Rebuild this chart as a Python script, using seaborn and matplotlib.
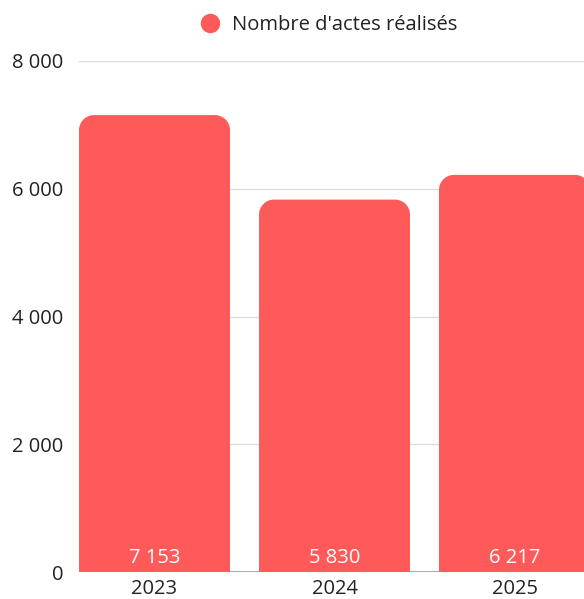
import numpy as np
import matplotlib
matplotlib.use("Agg")
import matplotlib.pyplot as plt
import seaborn as sns
from matplotlib.path import Path
from matplotlib.patches import PathPatch
from matplotlib.lines import Line2D
from matplotlib.ticker import FuncFormatter

# data
years = ["2023", "2024", "2025"]
actes = [7153, 5830, 6217]
series_name = "Nombre d'actes réalisés"
y_ticks = [0, 2000, 4000, 6000, 8000]

bar_color = "#FF5A5A"
text_color = "#222222"
fs = 14.5

sns.set_theme(style="white")
plt.rcParams["font.family"] = ["Open Sans", "DejaVu Sans"]

W, H = 584, 599
fig = plt.figure(figsize=(W / 100, H / 100), dpi=100)
ax_left, ax_right, ax_bottom, ax_top = 79, 584, 572, 61
ax = fig.add_axes([ax_left / W, (H - ax_bottom) / H,
                   (ax_right - ax_left) / W, (ax_bottom - ax_top) / H])

bar_w = 151 / 180
sns.barplot(x=years, y=actes, color=bar_color, width=bar_w, saturation=1, ax=ax, zorder=3)

ax.set_xlim(-bar_w / 2, (ax_right - ax_left) / 180 - bar_w / 2)
ax.set_ylim(0, 8000)

# rounded top corners
px_x = (ax.get_xlim()[1] - ax.get_xlim()[0]) / (ax_right - ax_left)
px_y = 8000 / (ax_bottom - ax_top)
rx, ry = 15 * px_x, 15 * px_y
k = 0.5523
for p in list(ax.patches):
    x0, y0 = p.get_x(), p.get_y()
    x1, h = x0 + p.get_width(), y0 + p.get_height()
    verts = [(x0, y0), (x0, h - ry),
             (x0, h - ry + k * ry), (x0 + rx - k * rx, h), (x0 + rx, h),
             (x1 - rx, h),
             (x1 - rx + k * rx, h), (x1, h - ry + k * ry), (x1, h - ry),
             (x1, y0), (x0, y0)]
    codes = [Path.MOVETO, Path.LINETO,
             Path.CURVE4, Path.CURVE4, Path.CURVE4,
             Path.LINETO,
             Path.CURVE4, Path.CURVE4, Path.CURVE4,
             Path.LINETO, Path.CLOSEPOLY]
    ax.add_patch(PathPatch(Path(verts, codes), facecolor=bar_color,
                           edgecolor="none", zorder=3))
    p.set_visible(False)

# value labels at bottom of bars
for i, v in enumerate(actes):
    ax.text(i, 14 * px_y, f"{v:,}".replace(",", " "), ha="center", va="center",
            color="white", fontsize=fs, zorder=4)

# grid and baseline
for t in y_ticks[1:]:
    ax.axhline(t, color="#dddddd", lw=1, zorder=1)
ax.axhline(0, color="#aaaaaa", lw=1.5, zorder=2)

for s in ax.spines.values():
    s.set_visible(False)
ax.set_yticks(y_ticks)
ax.yaxis.set_major_formatter(FuncFormatter(lambda v, _: f"{int(v):,}".replace(",", " ")))
ax.tick_params(axis="y", length=0, pad=11, labelsize=fs, labelcolor=text_color)
ax.tick_params(axis="x", length=0, pad=5, labelsize=fs, labelcolor=text_color)
ax.set_xlabel("")
ax.set_ylabel("")

handle = Line2D([], [], marker="o", linestyle="none", markersize=14,
                markerfacecolor=bar_color, markeredgecolor="none")
fig.legend([handle], [series_name], loc="center", bbox_to_anchor=(324 / W, 1 - 25 / H),
           frameon=False, fontsize=fs, handletextpad=0.1, labelcolor=text_color)

fig.savefig("out.png", dpi=100)
